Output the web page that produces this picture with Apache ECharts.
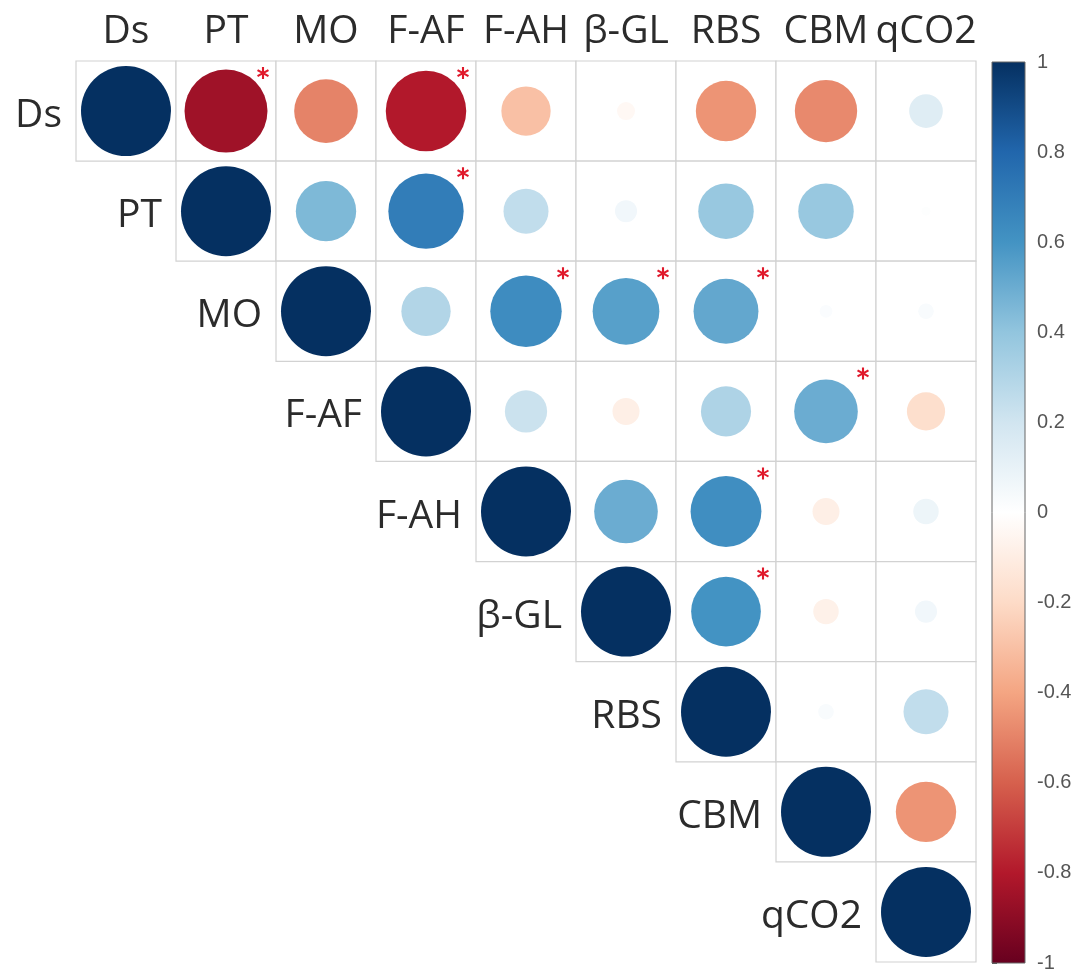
<!DOCTYPE html>
<html>
<head>
<meta charset="utf-8">
<script src="https://cdn.jsdelivr.net/npm/echarts@6/dist/echarts.min.js"></script>
<style>
html,body{margin:0;padding:0;background:#fff;}
#chart{width:1089px;height:975px;}
</style>
</head>
<body>
<div id="chart"></div>
<script>
// ---- data ----
const vars = ['Ds', 'PT', 'MO', 'F-AF', 'F-AH', 'β-GL', 'RBS', 'CBM', 'qCO2'];
// upper-triangle correlation rows (null = lower triangle, not drawn)
const rowDs   = [1, -0.85, -0.50, -0.80, -0.30, -0.04, -0.45, -0.48, 0.14];
const rowPT   = [null, 1, 0.45, 0.70, 0.25, 0.06, 0.38, 0.38, 0.01];
const rowMO   = [null, null, 1, 0.30, 0.63, 0.55, 0.52, 0.02, 0.03];
const rowFAF  = [null, null, null, 1, 0.22, -0.09, 0.31, 0.50, -0.18];
const rowFAH  = [null, null, null, null, 1, 0.50, 0.62, -0.09, 0.08];
const rowBGL  = [null, null, null, null, null, 1, 0.60, -0.08, 0.06];
const rowRBS  = [null, null, null, null, null, null, 1, 0.03, 0.25];
const rowCBM  = [null, null, null, null, null, null, null, 1, -0.45];
const rowQCO2 = [null, null, null, null, null, null, null, null, 1];
const rows = [rowDs, rowPT, rowMO, rowFAF, rowFAH, rowBGL, rowRBS, rowCBM, rowQCO2];
// significant pairs [row variable, column variable]
const sigPairs = [['Ds','PT'], ['Ds','F-AF'], ['PT','F-AF'], ['MO','F-AH'], ['MO','β-GL'],
                  ['MO','RBS'], ['F-AF','CBM'], ['F-AH','RBS'], ['β-GL','RBS']];
// colour scale (RdBu, -1 -> 1)
const palette = ['#67001F', '#B2182B', '#D6604D', '#F4A582', '#FDDBC7', '#FFFFFF',
                 '#D1E5F0', '#92C5DE', '#4393C3', '#2166AC', '#053061'];

// ---- build series data ----
const cellData = [], circleData = [], diagData = [];
rows.forEach((row, i) => {
  row.forEach((v, j) => {
    if (v === null) return;
    cellData.push([j, i]);
    circleData.push([j, i, v]);
    if (i === j) diagData.push([j, i]);
  });
});
const starData = sigPairs.map(p => [vars.indexOf(p[1]), vars.indexOf(p[0])]);

const CELL = 100;
const starPath = 'path://M-1,-6L1,-6L1,6L-1,6Z M-5.696,-2.134L-4.696,-3.866L5.696,2.134L4.696,3.866Z M-4.696,3.866L-5.696,2.134L4.696,-3.866L5.696,-2.134Z';

const chart = echarts.init(document.getElementById('chart'), null, {renderer: 'canvas'});
chart.setOption({
  backgroundColor: '#ffffff',
  animation: false,
  grid: [
    {left: 76, top: 61, width: 900, height: 901},
    {left: 992, top: 62, width: 33, height: 901}
  ],
  xAxis: [
    {
      type: 'category', gridIndex: 0, data: vars, position: 'top',
      axisLine: {show: false}, axisTick: {show: false}, splitLine: {show: false},
      axisLabel: {fontSize: 39, fontFamily: 'Open Sans', color: '#2b2b2b', margin: 10, interval: 0}
    },
    {type: 'value', gridIndex: 1, min: 0, max: 1, show: false}
  ],
  yAxis: [
    {type: 'category', gridIndex: 0, data: vars, inverse: true, show: false},
    {
      type: 'value', gridIndex: 1, min: -1, max: 1, interval: 0.2, position: 'right',
      axisLine: {show: false},
      axisTick: {show: true, length: 5, lineStyle: {color: '#555'}},
      splitLine: {show: false},
      axisLabel: {fontSize: 20, fontFamily: 'Liberation Sans', color: '#555', margin: 12,
                  formatter: v => String(Math.round(v * 10) / 10)}
    }
  ],
  visualMap: {
    type: 'continuous', show: false, min: -1, max: 1, dimension: 2, seriesIndex: 1,
    inRange: {color: palette}
  },
  series: [
    {
      type: 'custom', xAxisIndex: 0, yAxisIndex: 0, data: cellData, silent: true, z: 1,
      renderItem: (params, api) => {
        const c = api.coord([api.value(0), api.value(1)]);
        const s = api.size([1, 1]);
        return {
          type: 'rect',
          shape: {x: c[0] - s[0] / 2, y: c[1] - s[1] / 2, width: s[0], height: s[1]},
          style: {fill: '#ffffff', stroke: '#d2d2d2', lineWidth: 1.2}
        };
      }
    },
    {
      type: 'scatter', xAxisIndex: 0, yAxisIndex: 0, data: circleData, silent: true, z: 3,
      symbol: 'circle', itemStyle: {opacity: 1},
      symbolSize: v => 0.9 * Math.sqrt(Math.abs(v[2])) * CELL
    },
    {
      type: 'scatter', xAxisIndex: 0, yAxisIndex: 0, data: diagData, silent: true, z: 4,
      symbolSize: 0, itemStyle: {opacity: 1},
      label: {
        show: true, position: 'left', distance: 64, offset: [0, 5],
        fontSize: 39, fontFamily: 'Open Sans', color: '#2b2b2b', opacity: 1,
        formatter: p => vars[p.value[1]]
      }
    },
    {
      type: 'scatter', xAxisIndex: 0, yAxisIndex: 0, data: starData, silent: true, z: 5,
      symbol: starPath, symbolSize: 12, symbolOffset: [37, -38],
      itemStyle: {color: '#e0192b', opacity: 1}
    },
    {
      type: 'custom', xAxisIndex: 1, yAxisIndex: 1, data: [[0, -1]], silent: true, z: 2,
      renderItem: (params, api) => {
        const p0 = api.coord([0, 1]);
        const p1 = api.coord([1, -1]);
        const stops = palette.slice().reverse().map((c, k) => ({offset: k / (palette.length - 1), color: c}));
        return {
          type: 'rect',
          shape: {x: p0[0], y: p0[1], width: p1[0] - p0[0], height: p1[1] - p0[1]},
          style: {fill: new echarts.graphic.LinearGradient(0, 0, 0, 1, stops), stroke: '#666', lineWidth: 1}
        };
      }
    }
  ]
});
</script>
</body>
</html>
